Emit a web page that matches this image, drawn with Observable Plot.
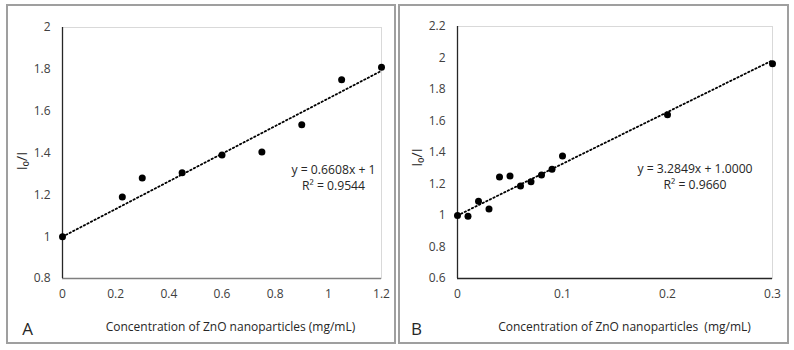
<!DOCTYPE html>
<html><head><meta charset="utf-8">
<script src="https://cdn.jsdelivr.net/npm/d3@7"></script>
<script src="https://cdn.jsdelivr.net/npm/@observablehq/plot@0.6"></script>
<style>
body{margin:0;background:#fff}
#wrap{position:relative;width:794px;height:350px;overflow:hidden;background:#fff}
.panel{position:absolute;box-sizing:border-box;border:2px solid #9f9f9f;pointer-events:none}
.svgbox{position:absolute}
svg text{white-space:pre}
</style></head>
<body><div id="wrap"></div>
<script>
// Panel A data
const concA = [0, 0.225, 0.3, 0.45, 0.6, 0.75, 0.9, 1.05, 1.2];
const ratioA = [1.0, 1.19, 1.28, 1.305, 1.39, 1.405, 1.535, 1.75, 1.81];
const slopeA = 0.6608, interceptA = 1;
const eqA = "y = 0.6608x + 1\nR² = 0.9544";
const xTicksA = [0, 0.2, 0.4, 0.6, 0.8, 1, 1.2];
const yTicksA = [0.8, 1, 1.2, 1.4, 1.6, 1.8, 2];

// Panel B data
const concB = [0, 0.01, 0.02, 0.03, 0.04, 0.05, 0.06, 0.07, 0.08, 0.09, 0.1, 0.2, 0.3];
const ratioB = [1.0, 0.995, 1.09, 1.042, 1.245, 1.251, 1.188, 1.215, 1.257, 1.293, 1.378, 1.64, 1.963];
const slopeB = 3.2849, interceptB = 1.0;
const eqB = "y = 3.2849x + 1.0000\nR² = 0.9660";
const xTicksB = [0, 0.1, 0.2, 0.3];
const yTicksB = [0.6, 0.8, 1, 1.2, 1.4, 1.6, 1.8, 2, 2.2];

const xTitleA = "Concentration of ZnO nanoparticles (mg/mL)";
const xTitleB = "Concentration of ZnO nanoparticles  (mg/mL)";
const yTitle = "I₀/I";

const FONT = "'Open Sans', 'Noto Sans', sans-serif";
const fmt = d => String(+d.toFixed(2));

function makePanel(o) {
  const data = o.x.map((v, i) => ({x: v, y: o.y[i]}));
  const xmax = d3.max(o.x);
  const fit = [o.xTicks[0], xmax];
  return Plot.plot({
    width: o.width, height: 340,
    marginLeft: o.ml, marginRight: o.mr, marginTop: o.mt, marginBottom: o.mb,
    style: {fontFamily: FONT, fontSize: "12px", color: "#404040", background: "transparent"},
    x: {domain: [o.xTicks[0], o.xTicks[o.xTicks.length - 1]], ticks: o.xTicks, tickFormat: fmt, tickSize: 0, tickPadding: 11, label: null},
    y: {domain: [o.yTicks[0], o.yTicks[o.yTicks.length - 1]], ticks: o.yTicks, tickFormat: fmt, tickSize: 0, tickPadding: 12, label: null},
    marks: [
      Plot.frame({stroke: "#d9d9d9", strokeWidth: 1}),
      Plot.ruleY([o.yTicks[0]], {stroke: o.bottomColor, strokeWidth: 1.3}),
      Plot.ruleX([o.xTicks[0]], {stroke: "#262626", strokeWidth: 1.3}),
      Plot.line(fit, {x: d => d, y: d => o.slope * d + o.intercept, stroke: "#000", strokeWidth: 1.8, strokeDasharray: "1.4 2.6"}),
      Plot.dot(data, {x: "x", y: "y", r: 3.5, fill: "#000", stroke: "none"}),
      Plot.text([o.eq], {frameAnchor: "top-right", text: d => d, dx: o.eqDx, dy: o.eqDy, textAnchor: "middle", lineAnchor: "middle", lineHeight: 1.33, fontSize: 12.2, fill: "#262626"}),
      Plot.text([o.xTitle], {frameAnchor: "bottom", text: d => d, dx: o.titleDx, dy: 49, lineAnchor: "middle", fontSize: 12, fill: "#262626"}),
      Plot.text([yTitle], {frameAnchor: "left", text: d => d, dx: -40, dy: o.yTitleDy, rotate: -90, textAnchor: "middle", lineAnchor: "middle", fontSize: 14.5, fill: "#262626"}),
      Plot.text([o.letter], {frameAnchor: "bottom-left", text: d => d, dx: o.letterDx, dy: 51, textAnchor: "middle", lineAnchor: "middle", fontSize: 17, fill: "#262626"})
    ]
  });
}

const wrap = document.getElementById("wrap");
function place(svg, left, top, width) {
  const box = document.createElement("div");
  box.className = "svgbox";
  box.style.left = left + "px"; box.style.top = top + "px";
  box.appendChild(svg);
  wrap.appendChild(box);
  const border = document.createElement("div");
  border.className = "panel";
  border.style.left = left + "px"; border.style.top = top + "px";
  border.style.width = width + "px"; border.style.height = "340px";
  wrap.appendChild(border);
}

place(makePanel({x: concA, y: ratioA, slope: slopeA, intercept: interceptA, eq: eqA,
  xTicks: xTicksA, yTicks: yTicksA, xTitle: xTitleA, letter: "A",
  width: 390, ml: 56, mr: 15, mt: 23, mb: 66, eqDx: -48, eqDy: 149,
  titleDx: 8.5, letterDx: -35, yTitleDy: 8, bottomColor: "#7f7f7f"}), 6, 4, 390);

place(makePanel({x: concB, y: ratioB, slope: slopeB, intercept: interceptB, eq: eqB,
  xTicks: xTicksB, yTicks: yTicksB, xTitle: xTitleB, letter: "B",
  width: 391, ml: 59, mr: 17, mt: 22, mb: 66, eqDx: -77.5, eqDy: 149,
  titleDx: 9.5, letterDx: -41, yTitleDy: 5, bottomColor: "#262626"}), 398, 4, 391);
</script>
</body></html>
